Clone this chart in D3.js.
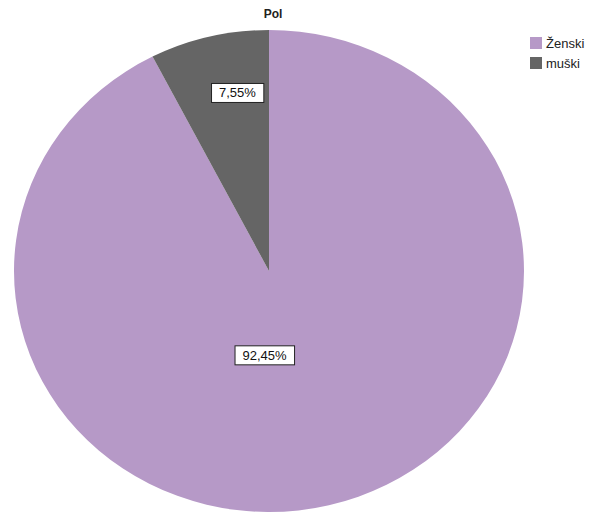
<!DOCTYPE html>
<html>
<head>
<meta charset="utf-8">
<script src="https://cdn.jsdelivr.net/npm/d3@7"></script>
<style>
  html, body { margin: 0; padding: 0; background: #ffffff; }
  svg { display: block; }
  text { font-family: "Liberation Sans", Arial, sans-serif; }
</style>
</head>
<body>
<svg id="chart" width="593" height="516"></svg>
<script>
// Gender split of respondents
const title = "Pol";
const categories = ["Ženski", "muški"];
const shares = [92.45, 7.55];
const colors = ["#b699c7", "#656565"];

const svg = d3.select("#chart");

// pie is drawn as a slightly flattened ellipse
const cx = 269, cy = 271;
const rx = 255, ry = 241;

const color = d3.scaleOrdinal().domain(categories).range(colors);

const pie = d3.pie().sort(null).value(d => d.value);
const data = categories.map((c, i) => ({ name: c, value: shares[i] }));
const arcs = pie(data);

const arc = d3.arc().innerRadius(0).outerRadius(rx);

const g = svg.append("g")
  .attr("transform", `translate(${cx},${cy}) scale(1,${ry / rx})`);

g.selectAll("path.slice")
  .data(arcs)
  .enter().append("path")
  .attr("class", "slice")
  .attr("d", arc)
  .attr("fill", d => color(d.data.name));

// value labels: boxed, placed inside each slice
const fmt = v => v.toFixed(2).replace(".", ",") + "%";
const labelArc = [d3.arc().innerRadius(0).outerRadius(rx * 0.72),
                  d3.arc().innerRadius(0).outerRadius(rx * 1.52)];
const nudge = [[-26, 0], [14, 0]];

arcs.forEach((d, i) => {
  const c = labelArc[i].centroid(d);
  const x = cx + c[0] + nudge[i][0];
  const y = cy + c[1] * (ry / rx) + nudge[i][1];
  const lg = svg.append("g").attr("transform", `translate(${x},${y})`);
  const t = lg.append("text")
    .attr("text-anchor", "middle")
    .attr("dominant-baseline", "central")
    .attr("font-size", 13)
    .attr("fill", "#111")
    .text(fmt(d.data.value));
  const bb = t.node().getBBox();
  lg.insert("rect", "text")
    .attr("x", bb.x - 7.5)
    .attr("y", -9.5)
    .attr("width", bb.width + 15)
    .attr("height", 19)
    .attr("fill", "#ffffff")
    .attr("stroke", "#222")
    .attr("stroke-width", 1);
});

// title
svg.append("text")
  .attr("x", 273)
  .attr("y", 18)
  .attr("text-anchor", "middle")
  .attr("font-size", 12)
  .attr("font-weight", "bold")
  .attr("fill", "#222")
  .text(title);

// legend
const legend = svg.append("g").attr("transform", "translate(530,37)");
const items = legend.selectAll("g.item")
  .data(categories)
  .enter().append("g")
  .attr("class", "item")
  .attr("transform", (d, i) => `translate(0,${i * 20})`);
items.append("rect")
  .attr("width", 12)
  .attr("height", 12)
  .attr("fill", d => color(d));
items.append("text")
  .attr("x", 16)
  .attr("y", 11)
  .attr("font-size", 13)
  .attr("fill", "#222")
  .text(d => d);
</script>
</body>
</html>
